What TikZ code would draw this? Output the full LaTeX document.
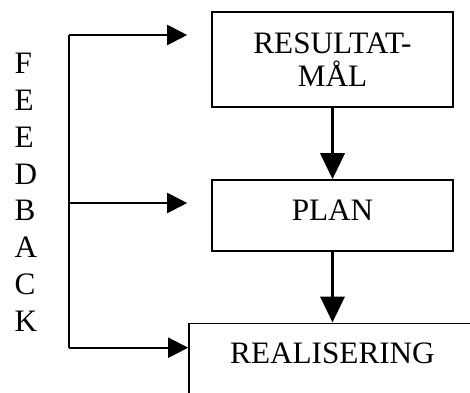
\documentclass[tikz,border=0pt]{standalone}
\usepackage{fontspec}
\setmainfont{Liberation Serif}
\usetikzlibrary{arrows.meta}
\begin{document}
\begin{tikzpicture}[x=1pt,y=-1pt,
  box/.style={draw, line width=1.6pt, inner sep=0pt, font=\fontsize{31.2}{32.4}\selectfont, align=center},
  letter/.style={anchor=base west, inner sep=0pt, font=\fontsize{31.2}{36.9}\selectfont},
  mainarrow/.style={line width=3.6pt, -{Triangle[length=26pt,width=24pt]}},
  fbline/.style={line width=2pt},
  fbarrow/.style={line width=2pt, shorten >=24pt, -{Triangle[length=20pt,width=20pt]}}]
\clip (0,0) rectangle (470,392);
\node[box, minimum width=241pt, minimum height=95pt] (res) at (332.5,59.5) {RESULTAT-\\MÅL};
\node[box, minimum width=241pt, minimum height=71pt, text height=20.6pt, text depth=11.6pt] (plan) at (332.5,215.5) {PLAN};
\node[box, minimum width=287pt, minimum height=80pt, text height=20.6pt, text depth=20.6pt] (real) at (332.5,363.3) {REALISERING};
\foreach \ch [count=\i from 0] in {F,E,E,D,B,A,C,K}
  \node[letter] (l\i) at (14.5,73.3+36.9*\i) {\ch};
\draw[mainarrow] (res) -- (plan);
\draw[mainarrow] (plan) -- (real);
\coordinate (fbtop) at (69,35);
\coordinate (fbmid) at (69,203);
\coordinate (fbbot) at (69,347.7);
\draw[fbline] (fbtop) -- (fbbot);
\draw[fbarrow] (fbtop) -- (fbtop -| res.west);
\draw[fbarrow] (fbmid) -- (fbmid -| plan.west);
\draw[fbarrow, shorten >=0pt] (fbbot) -- (fbbot -| real.west);
\end{tikzpicture}
\end{document}
